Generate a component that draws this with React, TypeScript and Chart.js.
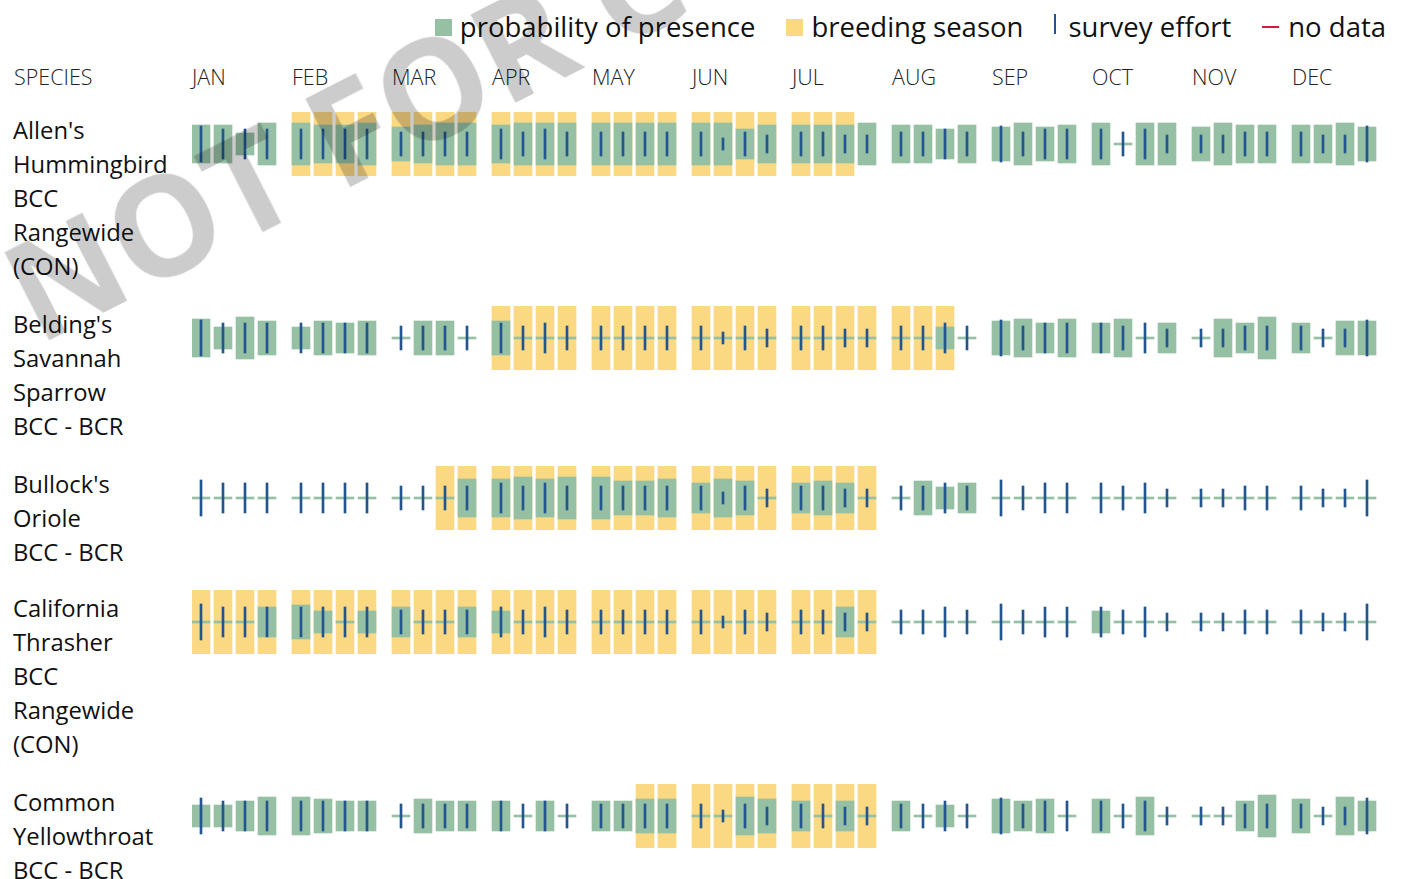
import React, { useEffect, useRef } from "react";
import { Chart, registerables } from "chart.js";

Chart.register(...registerables);

// ---------- data ----------
const MONTHS = ["JAN", "FEB", "MAR", "APR", "MAY", "JUN", "JUL", "AUG", "SEP", "OCT", "NOV", "DEC"];
const WEEKS_PER_MONTH = 4;

const SPECIES_LABELS: string[][] = [
  ["Allen's", "Hummingbird", "BCC", "Rangewide", "(CON)"],
  ["Belding's", "Savannah", "Sparrow", "BCC - BCR"],
  ["Bullock's", "Oriole", "BCC - BCR"],
  ["California", "Thrasher", "BCC", "Rangewide", "(CON)"],
  ["Common", "Yellowthroat", "BCC - BCR"],
];

// probability of presence, 0-10 scale, one value per week (4 per month)
const ALLEN_PRESENCE = [
  9, 9, 5, 10, 10, 9, 9, 10, 8, 9, 10, 10, 9, 10, 10, 10, 10, 10, 10, 10, 10, 10, 7, 9,
  9, 9, 9, 10, 9, 9, 7, 9, 8, 10, 8, 9, 10, 0, 10, 10, 8, 10, 9, 9, 9, 9, 10, 8,
];
const BELDING_PRESENCE = [
  9, 5, 10, 8, 5, 8, 7, 8, 0, 8, 8, 0, 8, 0, 0, 0, 0, 0, 0, 0, 0, 0, 0, 0,
  0, 0, 0, 0, 0, 0, 5, 0, 8, 9, 7, 9, 7, 9, 0, 7, 0, 9, 7, 10, 7, 0, 8, 8,
];
const BULLOCK_PRESENCE = [
  0, 0, 0, 0, 0, 0, 0, 0, 0, 0, 0, 9, 9, 10, 9, 10, 10, 8, 8, 9, 7, 9, 8, 0,
  7, 8, 7, 0, 0, 8, 5, 7, 0, 0, 0, 0, 0, 0, 0, 0, 0, 0, 0, 0, 0, 0, 0, 0,
];
const THRASHER_PRESENCE = [
  0, 0, 0, 7, 8, 5, 0, 5, 7, 0, 0, 7, 5, 0, 0, 0, 0, 0, 0, 0, 0, 0, 0, 0,
  0, 0, 7, 0, 0, 0, 0, 0, 0, 0, 0, 0, 5, 0, 0, 0, 0, 0, 0, 0, 0, 0, 0, 0,
];
const YELLOWTHROAT_PRESENCE = [
  5, 5, 7, 9, 9, 8, 7, 7, 0, 8, 7, 7, 7, 0, 7, 0, 7, 7, 8, 8, 0, 0, 9, 8,
  7, 0, 7, 0, 7, 0, 5, 0, 8, 7, 8, 0, 8, 0, 9, 0, 0, 0, 7, 10, 8, 0, 9, 7,
];

// breeding season, 1 = week inside the season
const ALLEN_BREEDING = [
  0, 0, 0, 0, 1, 1, 1, 1, 1, 1, 1, 1, 1, 1, 1, 1, 1, 1, 1, 1, 1, 1, 1, 1,
  1, 1, 1, 0, 0, 0, 0, 0, 0, 0, 0, 0, 0, 0, 0, 0, 0, 0, 0, 0, 0, 0, 0, 0,
];
const BELDING_BREEDING = [
  0, 0, 0, 0, 0, 0, 0, 0, 0, 0, 0, 0, 1, 1, 1, 1, 1, 1, 1, 1, 1, 1, 1, 1,
  1, 1, 1, 1, 1, 1, 1, 0, 0, 0, 0, 0, 0, 0, 0, 0, 0, 0, 0, 0, 0, 0, 0, 0,
];
const BULLOCK_BREEDING = [
  0, 0, 0, 0, 0, 0, 0, 0, 0, 0, 1, 1, 1, 1, 1, 1, 1, 1, 1, 1, 1, 1, 1, 1,
  1, 1, 1, 1, 0, 0, 0, 0, 0, 0, 0, 0, 0, 0, 0, 0, 0, 0, 0, 0, 0, 0, 0, 0,
];
const THRASHER_BREEDING = [
  1, 1, 1, 1, 1, 1, 1, 1, 1, 1, 1, 1, 1, 1, 1, 1, 1, 1, 1, 1, 1, 1, 1, 1,
  1, 1, 1, 1, 0, 0, 0, 0, 0, 0, 0, 0, 0, 0, 0, 0, 0, 0, 0, 0, 0, 0, 0, 0,
];
const YELLOWTHROAT_BREEDING = [
  0, 0, 0, 0, 0, 0, 0, 0, 0, 0, 0, 0, 0, 0, 0, 0, 0, 0, 1, 1, 1, 1, 1, 1,
  1, 1, 1, 1, 0, 0, 0, 0, 0, 0, 0, 0, 0, 0, 0, 0, 0, 0, 0, 0, 0, 0, 0, 0,
];

// survey effort level per week (shared by all species)
const SURVEY_EFFORT = [
  6, 5, 5, 5, 5, 5, 5, 5, 4, 4, 4, 4, 5, 4, 5, 4, 4, 4, 4, 4, 4, 2, 4, 3,
  4, 4, 3, 3, 4, 4, 5, 4, 6, 4, 5, 5, 5, 4, 5, 3, 3, 3, 4, 4, 4, 3, 3, 6,
];

const PRESENCE = [ALLEN_PRESENCE, BELDING_PRESENCE, BULLOCK_PRESENCE, THRASHER_PRESENCE, YELLOWTHROAT_PRESENCE];
const BREEDING = [ALLEN_BREEDING, BELDING_BREEDING, BULLOCK_BREEDING, THRASHER_BREEDING, YELLOWTHROAT_BREEDING];

// ---------- style ----------
const GREEN = "#96c0a3";
const YELLOW = "#fbd983";
const BLUE = "#23558f";
const RED = "#d8193c";
const FONT = '"Open Sans", "Noto Sans", sans-serif';
const CELL_HALF = 32; // half height of a species cell, in y-axis units (px)
const WEEK_STEP = 0.22; // week spacing inside a month, in month units

function weekX(i: number) {
  const m = Math.floor(i / WEEKS_PER_MONTH);
  const w = i % WEEKS_PER_MONTH;
  return m + w * WEEK_STEP;
}

function SpeciesChart({ presence, breeding }: { presence: number[]; breeding: number[] }) {
  const ref = useRef<HTMLCanvasElement | null>(null);
  useEffect(() => {
    if (!ref.current) return;
    const effortData = SURVEY_EFFORT.map((e, i) => ({ x: weekX(i), y: [-3 * e, 3 * e] }));
    const presenceData = presence.map((p, i) => ({ x: weekX(i), y: [-(1 + 2 * p), 1 + 2 * p] }));
    const breedingData = breeding
      .map((b, i) => (b ? { x: weekX(i), y: [-CELL_HALF, CELL_HALF] } : null))
      .filter((d) => d !== null);
    const chart = new Chart(ref.current, {
      type: "bar",
      data: {
        datasets: [
          { label: "survey effort", data: effortData as any, backgroundColor: BLUE, barThickness: 2, grouped: false, order: 0, borderWidth: 0 },
          { label: "probability of presence", data: presenceData as any, backgroundColor: GREEN, barThickness: 18, grouped: false, order: 1, borderWidth: 0 },
          { label: "breeding season", data: breedingData as any, backgroundColor: YELLOW, barThickness: 18, grouped: false, order: 2, borderWidth: 0 },
        ],
      },
      options: {
        animation: false,
        responsive: false,
        devicePixelRatio: 1,
        events: [],
        layout: { padding: 0 },
        plugins: { legend: { display: false }, tooltip: { enabled: false } },
        scales: {
          x: { type: "linear", min: -0.09, max: 11.91, offset: false, display: false },
          y: { type: "linear", min: -CELL_HALF, max: CELL_HALF, display: false },
        },
      },
    });
    return () => chart.destroy();
  }, [presence, breeding]);
  return <canvas ref={ref} width={1200} height={64} style={{ display: "block" }} />;
}

function LegendItem({ marker, text }: { marker: React.ReactNode; text: string }) {
  return (
    <div style={{ display: "flex", alignItems: "center" }}>
      {marker}
      <span>{text}</span>
    </div>
  );
}

export default function App() {
  return (
    <div
      style={{
        position: "absolute",
        left: 0,
        top: 0,
        width: 1401,
        height: 879,
        overflow: "hidden",
        background: "#fff",
        fontFamily: FONT,
        color: "#111",
      }}
    >
      {/* legend */}
      <div
        style={{
          position: "absolute",
          top: 8,
          right: 15,
          display: "flex",
          alignItems: "center",
          gap: 31,
          fontSize: 27.5,
          lineHeight: "38px",
          whiteSpace: "nowrap",
        }}
      >
        <LegendItem marker={<span style={{ width: 17, height: 17, background: GREEN, marginRight: 8 }} />} text="probability of presence" />
        <LegendItem marker={<span style={{ width: 17, height: 17, background: YELLOW, marginRight: 8 }} />} text="breeding season" />
        <LegendItem marker={<span style={{ width: 2, height: 20, background: BLUE, marginRight: 12, marginTop: -6 }} />} text="survey effort" />
        <LegendItem marker={<span style={{ width: 17, height: 2, background: RED, marginRight: 9 }} />} text="no data" />
      </div>

      {/* header */}
      <div
        style={{
          position: "absolute",
          top: 62,
          left: 14,
          fontSize: 21.5,
          fontWeight: 300,
          lineHeight: "30px",
          color: "#222",
        }}
      >
        SPECIES
      </div>
      <div style={{ position: "absolute", top: 62, left: 192, width: 1200, display: "flex", fontSize: 21.5, fontWeight: 300, lineHeight: "30px", color: "#222" }}>
        {MONTHS.map((m) => (
          <div key={m} style={{ width: 100 }}>
            {m}
          </div>
        ))}
      </div>

      {/* species rows */}
      <div style={{ position: "absolute", top: 112, left: 0 }}>
        {SPECIES_LABELS.map((lines, r) => (
          <div key={r} style={{ display: "flex", alignItems: "flex-start", marginBottom: lines.length === 3 ? 21 : 23 }}>
            <div style={{ width: 179, paddingLeft: 13, paddingTop: 1, fontSize: 23.8, lineHeight: "34px" }}>
              {lines.map((l, k) => (
                <div key={k} style={{ whiteSpace: "nowrap" }}>
                  {l}
                </div>
              ))}
            </div>
            <SpeciesChart presence={PRESENCE[r]} breeding={BREEDING[r]} />
          </div>
        ))}
      </div>

      {/* watermark */}
      <div
        style={{
          position: "absolute",
          left: 38,
          top: 222.5,
          fontSize: 138,
          lineHeight: "138px",
          fontWeight: 700,
          color: "rgba(0,0,0,0.2)",
          whiteSpace: "nowrap",
          transformOrigin: "0px 122.5px",
          transform: "rotate(-27deg)",
          pointerEvents: "none",
        }}
      >
        NOT FOR CONSULTATION
      </div>
    </div>
  );
}
